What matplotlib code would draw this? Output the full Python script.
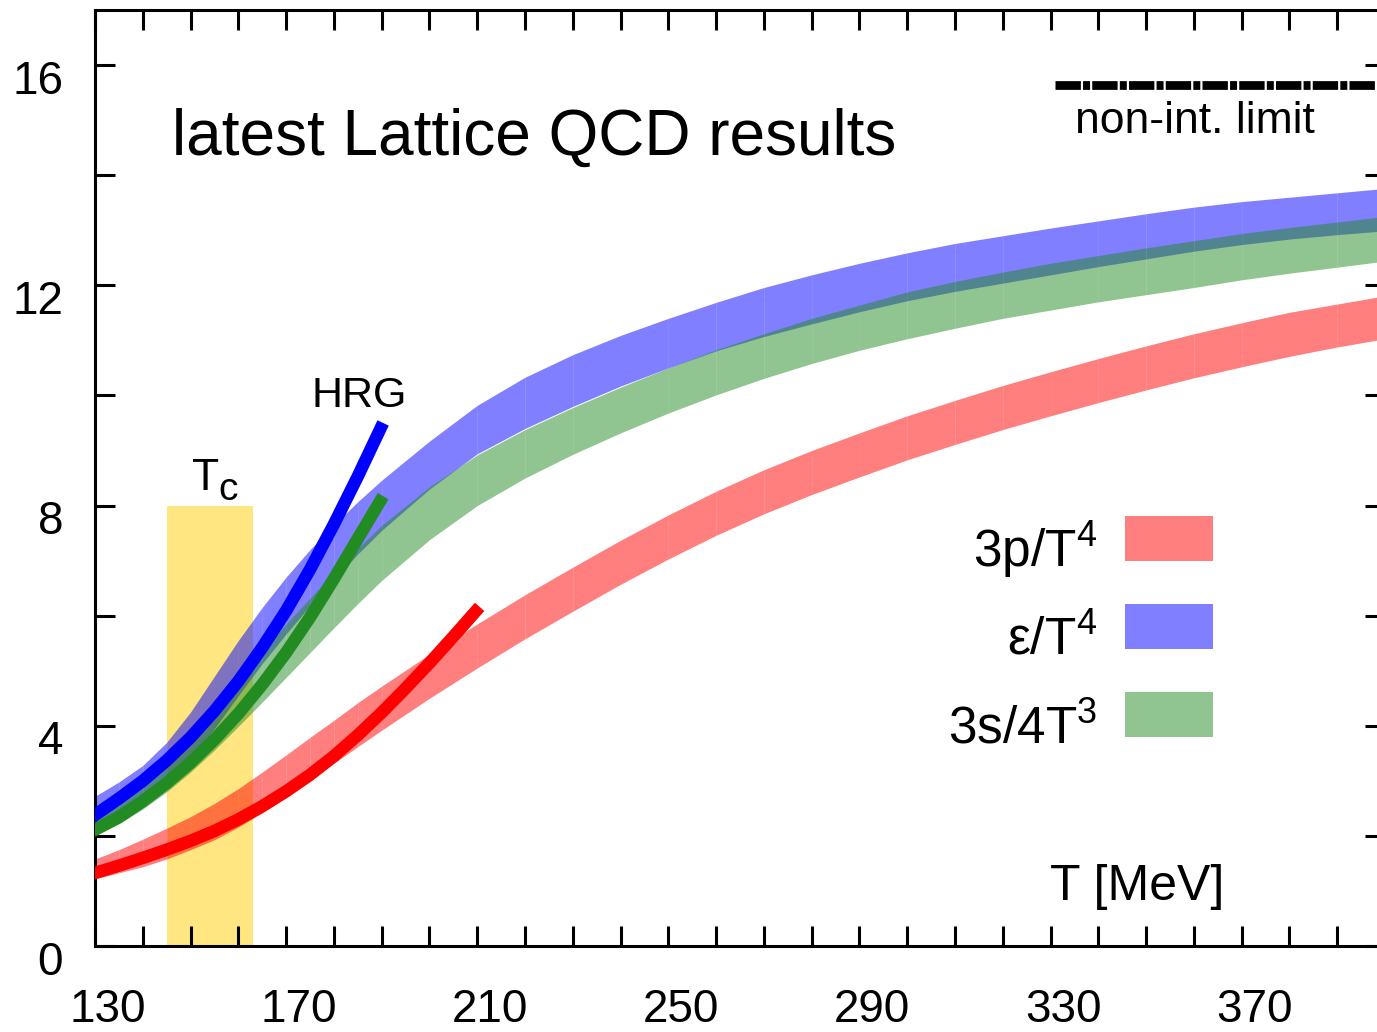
"""Lattice QCD equation of state: pressure, energy and entropy bands."""

import matplotlib
matplotlib.use("Agg")
import matplotlib.pyplot as plt
from matplotlib.patches import Rectangle
from matplotlib.transforms import ScaledTranslation

plt.rcParams['font.family'] = ['Liberation Sans', 'DejaVu Sans']
plt.rcParams['mathtext.fontset'] = 'custom'
plt.rcParams['mathtext.rm'] = 'Liberation Sans'
plt.rcParams['mathtext.default'] = 'regular'

# lattice bands (lower / upper edge) vs temperature in MeV
T = [130, 135, 140, 145, 150, 155, 160, 165, 170, 175, 180, 185, 190, 200, 210,
     220, 230, 240, 250, 260, 270, 280, 290, 300, 310, 320, 330, 340, 350, 360,
     370, 380, 390, 400]
p3_lo = [1.22, 1.33, 1.44, 1.58, 1.75, 1.93, 2.16, 2.42, 2.71, 3.01, 3.32, 3.62,
         3.92, 4.50, 5.05, 5.58, 6.08, 6.57, 7.03, 7.46, 7.85, 8.20, 8.52, 8.83,
         9.11, 9.38, 9.63, 9.87, 10.10, 10.32, 10.52, 10.71, 10.88, 11.03]
p3_hi = [1.58, 1.75, 1.94, 2.14, 2.35, 2.59, 2.86, 3.16, 3.47, 3.79, 4.10, 4.42,
         4.72, 5.30, 5.85, 6.38, 6.88, 7.37, 7.83, 8.26, 8.65, 9.00, 9.32, 9.63,
         9.91, 10.18, 10.43, 10.67, 10.90, 11.12, 11.32, 11.51, 11.66, 11.81]
e_lo = [2.22, 2.40, 2.62, 2.95, 3.40, 3.95, 4.55, 5.13, 5.67, 6.18, 6.66, 7.12,
        7.55, 8.30, 8.94, 9.40, 9.80, 10.17, 10.50, 10.81, 11.07, 11.30, 11.52,
        11.72, 11.89, 12.04, 12.19, 12.34, 12.48, 12.62, 12.74, 12.84, 12.92, 12.99]
e_hi = [2.72, 2.98, 3.28, 3.70, 4.25, 4.90, 5.55, 6.15, 6.70, 7.20, 7.65, 8.07,
        8.46, 9.17, 9.82, 10.33, 10.74, 11.09, 11.40, 11.69, 11.96, 12.19, 12.40,
        12.59, 12.76, 12.90, 13.04, 13.17, 13.30, 13.42, 13.52, 13.60, 13.68, 13.76]
s_lo = [2.00, 2.22, 2.49, 2.80, 3.16, 3.56, 3.99, 4.43, 4.88, 5.33, 5.78, 6.22,
        6.64, 7.38, 8.00, 8.50, 8.93, 9.32, 9.68, 10.01, 10.31, 10.58, 10.82,
        11.03, 11.22, 11.40, 11.55, 11.70, 11.83, 11.96, 12.10, 12.22, 12.33, 12.44]
s_hi = [2.36, 2.62, 2.95, 3.35, 3.82, 4.34, 4.87, 5.37, 5.85, 6.32, 6.78, 7.22,
        7.64, 8.34, 8.92, 9.38, 9.78, 10.15, 10.50, 10.83, 11.12, 11.40, 11.64,
        11.88, 12.07, 12.24, 12.40, 12.54, 12.68, 12.81, 12.94, 13.05, 13.15, 13.25]

# hadron resonance gas curves
hrg_T = [129, 135, 140, 145, 150, 155, 160, 165, 170, 175, 180, 185, 190.3]
hrg_e = [2.32, 2.68, 3.00, 3.37, 3.79, 4.27, 4.81, 5.42, 6.09, 6.84, 7.66, 8.53, 9.50]
hrg_s = [2.07, 2.34, 2.63, 2.96, 3.33, 3.75, 4.22, 4.75, 5.33, 5.97, 6.67, 7.40, 8.17]
hrg_p_T = [129, 135, 140, 145, 150, 155, 160, 165, 170, 175, 180, 185, 190, 195,
           200, 205, 210.5]
hrg_p = [1.30, 1.46, 1.60, 1.75, 1.91, 2.09, 2.30, 2.54, 2.81, 3.11, 3.45, 3.83,
         4.24, 4.68, 5.14, 5.62, 6.16]

tc_range = [145, 163]
tc_top = 8
sb_T = [331, 400]
sb_value = 15.63

labels = ["3p/T$^4$", "ε/T$^4$", "3s/4T$^3$"]
band_colors = ["red", "blue", "forestgreen"]

fig = plt.figure(figsize=(13.77, 10.32), dpi=100)
ax = fig.add_axes([0.0690, 0.0833, 0.9368, 0.9070])

ax.fill_between(tc_range, 0, tc_top, color="#ffe680", lw=0, zorder=1)

bands = [(p3_lo, p3_hi), (e_lo, e_hi), (s_lo, s_hi)]
for (lo, hi), col in zip(bands, band_colors):
    # drawn piecewise, like the original, which leaves faint seams
    for i in range(len(T) - 1):
        ax.fill_between(T[i:i + 2], lo[i:i + 2], hi[i:i + 2], color=col,
                        alpha=0.5, lw=0, zorder=2)

ax.plot(hrg_p_T, hrg_p, color="red", lw=9, solid_capstyle="butt", zorder=4)
ax.plot(hrg_T, hrg_e, color="blue", lw=9, solid_capstyle="butt", zorder=4)
ax.plot(hrg_T, hrg_s, color="forestgreen", lw=9, solid_capstyle="butt", zorder=4)

ax.plot(sb_T, [sb_value, sb_value], color="black", lw=6.3,
        dashes=(2.9, 0.25, 0.8, 0.25), dash_capstyle="butt", zorder=4)

ax.set_xlim(130, 400)
ax.set_ylim(0, 17)
ax.set_xticks(range(130, 401, 40))
ax.set_xticks(range(130, 401, 10), minor=True)
ax.set_yticks(range(0, 17, 4))
ax.set_yticks(range(0, 17, 2), minor=True)
ax.tick_params(which="both", direction="in", length=14.4, width=2.2,
               top=True, right=True, labelsize=33)
ax.tick_params(axis="x", pad=30)
ax.tick_params(axis="y", pad=23)
for lab in ax.get_xticklabels():
    lab.set_transform(lab.get_transform() + ScaledTranslation(0.125, 0, fig.dpi_scale_trans))
for lab in ax.get_yticklabels():
    lab.set_transform(lab.get_transform() + ScaledTranslation(0, -0.115, fig.dpi_scale_trans))
for sp in ax.spines.values():
    sp.set_linewidth(2.2)

ax.text(0.0597, 0.845, "latest Lattice QCD results", transform=ax.transAxes,
        fontsize=46, ha="left", va="baseline")
ax.text(0.760, 0.8686, "non-int. limit", transform=ax.transAxes,
        fontsize=32, ha="left", va="baseline")
ax.text(0.740, 0.049, "T [MeV]", transform=ax.transAxes,
        fontsize=36, ha="left", va="baseline")
ax.text(175.4, 9.79, "HRG", fontsize=31, ha="left", va="baseline")
ax.text(150.3, 8.28, "T", fontsize=32, ha="left", va="baseline")
ax.text(155.8, 8.10, "c", fontsize=28, ha="left", va="baseline")

# legend: label on the left, coloured box on the right
box_y = [0.4113, 0.3173, 0.2233]
for lab, col, y in zip(labels, band_colors, box_y):
    ax.add_patch(Rectangle((0.7984, y), 0.0682, 0.0481, transform=ax.transAxes,
                           facecolor=col, alpha=0.5, lw=0, zorder=5))
    ax.text(0.7767, y - 0.0064, lab, transform=ax.transAxes, fontsize=37,
            ha="right", va="baseline")

fig.savefig("out.png", dpi=100)
